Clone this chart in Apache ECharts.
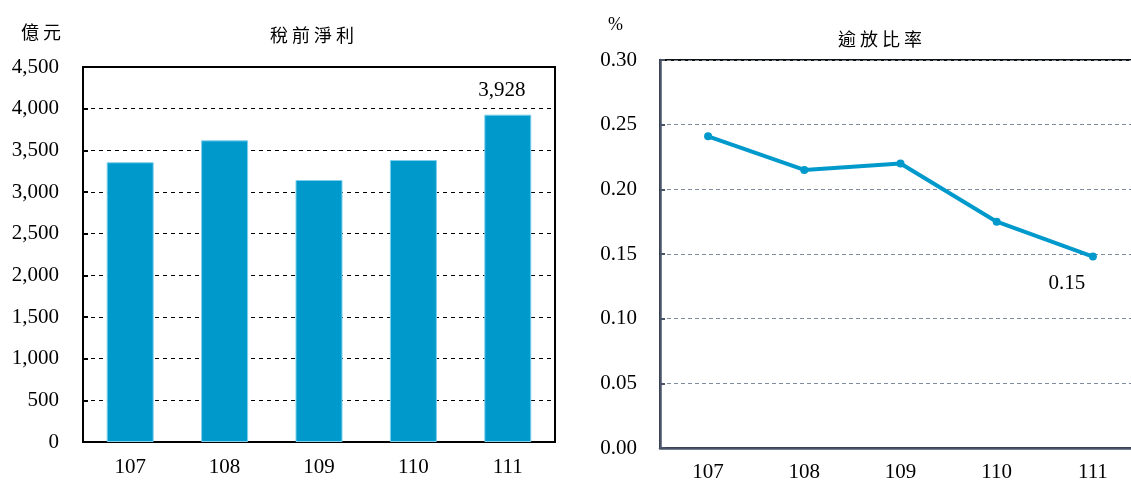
<!DOCTYPE html>
<html>
<head>
<meta charset="utf-8">
<script src="https://cdn.jsdelivr.net/npm/echarts@6/dist/echarts.min.js"></script>
<style>
  html, body { margin: 0; padding: 0; background: #fff; }
  #main { width: 1131px; height: 482px; }
</style>
</head>
<body>
<div id="main"></div>
<script>
// 資料
var years = ['107', '108', '109', '110', '111'];
var profit = [3357, 3620, 3144, 3384, 3928];   // 稅前淨利（億元）
var nplRatio = [0.241, 0.215, 0.220, 0.175, 0.148]; // 逾放比率（%）
var profitLabels = ['', '', '', '', '3,928'];
var ratioLabels = ['', '', '', '', '0.15'];

var serif = '"Liberation Serif", "Times New Roman", serif';
var cjk = '"Noto Sans CJK TC", sans-serif';
var blue = '#0099cc';

var myChart = echarts.init(document.getElementById('main'));

var option = {
    animation: false,
    backgroundColor: '#fff',
    title: [
        { text: '稅 前 淨 利', left: 307, top: 21, textAlign: 'center',
          textStyle: { fontFamily: cjk, fontSize: 18, fontWeight: 'normal', color: '#000' } },
        { text: '億 元', left: 16, top: 18,
          textStyle: { fontFamily: cjk, fontSize: 18, fontWeight: 'normal', color: '#000' } },
        { text: '逾 放 比 率', left: 875, top: 25, textAlign: 'center',
          textStyle: { fontFamily: cjk, fontSize: 18, fontWeight: 'normal', color: '#000' } },
        { text: '%', left: 603, top: 11,
          textStyle: { fontFamily: serif, fontSize: 18, fontWeight: 'normal', color: '#000' } }
    ],
    grid: [
        { left: 83, top: 67, width: 472, height: 375, show: true, outerBoundsMode: 'none',
          borderColor: '#000', borderWidth: 2, backgroundColor: 'transparent' },
        { left: 660, top: 60, width: 481, height: 388, show: true, outerBoundsMode: 'none',
          borderColor: '#111', borderWidth: 2, backgroundColor: 'transparent' }
    ],
    xAxis: [
        {
            type: 'category', gridIndex: 0, data: years,
            axisLine: { lineStyle: { color: '#000', width: 2 } },
            axisTick: { inside: true, length: 5, lineStyle: { color: '#000', width: 2 } },
            axisLabel: { fontFamily: serif, fontSize: 21, color: '#000', margin: 15 }
        },
        {
            type: 'category', gridIndex: 1, data: years,
            axisLine: { lineStyle: { color: '#4a5468', width: 2.5 } },
            axisTick: { inside: true, length: 6, lineStyle: { color: '#4a5468', width: 2 } },
            axisLabel: { fontFamily: serif, fontSize: 21, color: '#000', margin: 14 }
        }
    ],
    yAxis: [
        {
            type: 'value', gridIndex: 0, min: 0, max: 4500, interval: 500,
            axisLine: { show: true, lineStyle: { color: '#000', width: 2 } },
            axisTick: { show: true, inside: true, length: 5, lineStyle: { color: '#000', width: 2 } },
            axisLabel: { fontFamily: serif, fontSize: 21, color: '#000', margin: 24,
                formatter: function (v) { return v.toLocaleString('en-US'); } },
            splitLine: { lineStyle: { color: '#000', type: [4, 4], width: 1 } }
        },
        {
            type: 'value', gridIndex: 1, min: 0, max: 0.3, interval: 0.05,
            axisLine: { show: true, lineStyle: { color: '#4a5468', width: 2.5 } },
            axisTick: { show: true, inside: true, length: 5, lineStyle: { color: '#4a5468', width: 2 } },
            axisLabel: { fontFamily: serif, fontSize: 21, color: '#000', margin: 23,
                formatter: function (v) { return v.toFixed(2); } },
            splitLine: { lineStyle: { color: '#7f8a9c', type: [4, 3], width: 1 } }
        }
    ],
    series: [
        {
            name: '稅前淨利', type: 'bar', xAxisIndex: 0, yAxisIndex: 0,
            barWidth: 47,
            itemStyle: { color: blue, borderColor: '#7fd0ee', borderWidth: 1 },
            data: profit.map(function (v, i) {
                return {
                    value: v,
                    label: {
                        show: profitLabels[i] !== '', position: 'top', distance: 14, offset: [-6, 0],
                        formatter: profitLabels[i], fontFamily: serif, fontSize: 21, color: '#000'
                    }
                };
            })
        },
        {
            name: '逾放比率', type: 'line', xAxisIndex: 1, yAxisIndex: 1,
            symbol: 'circle', symbolSize: 8,
            lineStyle: { color: blue, width: 4 },
            itemStyle: { color: blue },
            data: nplRatio.map(function (v, i) {
                return {
                    value: v,
                    label: {
                        show: ratioLabels[i] !== '', position: 'bottom', distance: 12, offset: [-26, 0],
                        formatter: ratioLabels[i], fontFamily: serif, fontSize: 21, color: '#000'
                    }
                };
            })
        }
    ]
};

myChart.setOption(option);
</script>
</body>
</html>
